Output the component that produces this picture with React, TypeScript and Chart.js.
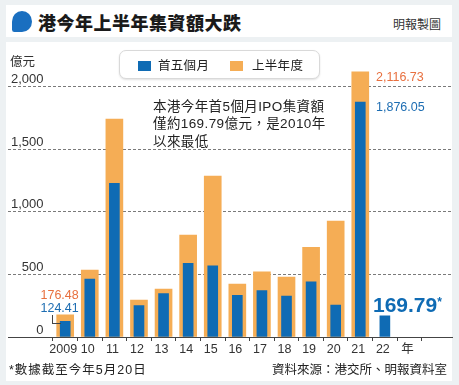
import React, { useEffect, useRef } from "react";
import { Chart, registerables } from "chart.js";

Chart.register(...registerables);

// ---- data ----
const yearLabels = ["2009", "10", "11", "12", "13", "14", "15", "16", "17", "18", "19", "20", "21", "22", "年"];
const firstFiveMonths = [124.41, 463, 1227, 250, 346, 588, 569, 333, 370, 327, 441, 255, 1876.05, 169.79];
const firstHalfYear = [176.48, 535, 1740, 295, 383, 814, 1285, 423, 521, 479, 716, 926, 2116.73, null];
const yTickValues = [0, 500, 1000, 1500, 2000];

const BLUE = "#0f6bb4";
const ORANGE = "#f5ad55";
const RED_TXT = "#e8703f";
const BLUE_TXT = "#1d6db2";
const NUM_FONT = "'Liberation Sans', Arial, 'Noto Sans CJK TC', sans-serif";
const CJK_FONT = "'Liberation Sans', 'Noto Sans CJK TC', sans-serif";

type TxtProps = { x: number; cy: number; children: React.ReactNode; style?: React.CSSProperties };
const Txt = ({ x, cy, children, style }: TxtProps) => (
  <div
    style={{
      position: "absolute",
      left: x,
      top: cy - 10,
      height: 20,
      lineHeight: "20px",
      whiteSpace: "nowrap",
      ...style,
    }}
  >
    {children}
  </div>
);

export default function App() {
  const canvasRef = useRef<HTMLCanvasElement | null>(null);

  useEffect(() => {
    const canvas = canvasRef.current;
    if (!canvas) return;
    const chart = new Chart(canvas, {
      type: "bar",
      data: {
        datasets: [
          {
            label: "首五個月",
            data: firstFiveMonths.map((v, i) => ({ x: i, y: v })),
            backgroundColor: BLUE,
            barThickness: 10,
            grouped: false,
            order: 0,
          } as any,
          {
            label: "上半年度",
            data: firstHalfYear
              .map((v, i) => ({ x: i, y: v }))
              .filter((p) => p.y !== null),
            backgroundColor: ORANGE,
            barThickness: 17,
            grouped: false,
            order: 1,
          } as any,
        ],
      },
      options: {
        responsive: false,
        animation: false,
        devicePixelRatio: 1,
        layout: { padding: { left: 8, right: 7, top: 61.45, bottom: 28 } },
        plugins: { legend: { display: false }, tooltip: { enabled: false } },
        scales: {
          x: {
            type: "linear",
            offset: false,
            min: -2.326,
            max: 15.73,
            afterBuildTicks: (axis: any) => {
              axis.ticks = yearLabels.map((_, i) => ({ value: i }));
            },
            afterFit: (axis: any) => {
              axis.height = 20;
            },
            ticks: {
              autoSkip: false,
              maxRotation: 0,
              padding: 1,
              labelOffset: -2,
              color: "#333",
              font: { family: CJK_FONT, size: 12.5 },
              callback: (_v: any, i: number) => yearLabels[i],
            },
            grid: {
              offset: true,
              drawOnChartArea: false,
              drawTicks: true,
              tickLength: 4,
              color: (c: any) => (c.index >= yearLabels.length ? "rgba(0,0,0,0)" : "#444"),
            },
            border: { display: true, color: "#444", width: 1 },
          } as any,
          y: {
            min: 0,
            max: 2200,
            afterBuildTicks: (axis: any) => {
              axis.ticks = yTickValues.map((v) => ({ value: v }));
            },
            afterFit: (axis: any) => {
              axis.width = 0;
            },
            ticks: {
              mirror: true,
              crossAlign: "far",
              padding: 3,
              labelOffset: -7,
              color: "#333",
              font: { family: NUM_FONT, size: 13 },
              callback: (v: any) => Number(v).toLocaleString("en-US"),
            },
            grid: {
              drawTicks: false,
              lineWidth: 1,
              color: (c: any) => (c.tick && c.tick.value === 0 ? "rgba(0,0,0,0)" : "#7a7a7a"),
            },
            border: { display: false, dash: [3, 2] },
          } as any,
        },
      },
    });
    return () => chart.destroy();
  }, []);

  return (
    <div
      style={{
        position: "relative",
        width: 459,
        height: 385,
        background: "#edf1f3",
        overflow: "hidden",
        fontFamily: CJK_FONT,
        color: "#222",
      }}
    >
      <style>{`body{margin:0}`}</style>
      {/* title panel */}
      <div style={{ position: "absolute", left: 6, top: 5, width: 446, height: 32, background: "#fff" }} />
      <div
        style={{
          position: "absolute",
          left: 12,
          top: 11,
          width: 20,
          height: 21,
          background: "#1a6fc0",
          borderRadius: "50% 50% 50% 12%",
        }}
      />
      <Txt x={38} cy={21.5} style={{ fontFamily: "'Noto Sans CJK TC', sans-serif", fontWeight: 900, fontSize: 18, letterSpacing: 0.5, color: "#1a1a1a" }}>
        港今年上半年集資額大跌
      </Txt>
      <Txt x={393} cy={25} style={{ fontSize: 12, color: "#333" }}>
        明報製圖
      </Txt>

      {/* chart panel */}
      <div style={{ position: "absolute", left: 6, top: 42, width: 446, height: 339, background: "#fff" }} />

      <canvas ref={canvasRef} width={459} height={385} style={{ position: "absolute", left: 0, top: 0, width: 459, height: 385 }} />

      <Txt x={10} cy={62} style={{ fontSize: 12.5, color: "#333" }}>
        億元
      </Txt>

      {/* legend */}
      <div
        style={{
          position: "absolute",
          left: 119,
          top: 50,
          width: 199,
          height: 27,
          border: "1px solid #d9d9d9",
          borderRadius: 7,
          background: "#fff",
          boxShadow: "0 1px 2px rgba(0,0,0,0.12)",
        }}
      />
      <div style={{ position: "absolute", left: 138, top: 61, width: 13, height: 10, background: BLUE }} />
      <Txt x={158} cy={65.5} style={{ fontSize: 12.5, letterSpacing: 0.3, color: "#222" }}>
        首五個月
      </Txt>
      <div style={{ position: "absolute", left: 230, top: 61, width: 13, height: 10, background: ORANGE }} />
      <Txt x={252} cy={65.5} style={{ fontSize: 12.5, letterSpacing: 0.3, color: "#222" }}>
        上半年度
      </Txt>

      {/* annotation */}
      <Txt x={153} cy={106.5} style={{ fontSize: 13.5, letterSpacing: 0.4, color: "#222" }}>
        本港今年首5個月IPO集資額
      </Txt>
      <Txt x={153} cy={124} style={{ fontSize: 13.5, letterSpacing: 0.4, color: "#222" }}>
        僅約169.79億元，是2010年
      </Txt>
      <Txt x={153} cy={141.5} style={{ fontSize: 13.5, letterSpacing: 0.4, color: "#222" }}>
        以來最低
      </Txt>

      {/* value labels */}
      <Txt x={376} cy={77} style={{ fontFamily: NUM_FONT, fontSize: 12.5, color: RED_TXT }}>
        2,116.73
      </Txt>
      <Txt x={376} cy={106.5} style={{ fontFamily: NUM_FONT, fontSize: 12.5, color: BLUE_TXT }}>
        1,876.05
      </Txt>
      <Txt x={40.5} cy={294.5} style={{ fontFamily: NUM_FONT, fontSize: 12.5, color: RED_TXT }}>
        176.48
      </Txt>
      <Txt x={40.5} cy={308} style={{ fontFamily: NUM_FONT, fontSize: 12.5, color: BLUE_TXT }}>
        124.41
      </Txt>
      <div style={{ position: "absolute", left: 52, top: 315, width: 8, height: 8, borderLeft: "1px solid #444", borderBottom: "1px solid #444" }} />
      <Txt x={373} cy={304.5} style={{ fontFamily: NUM_FONT, fontSize: 21, fontWeight: 700, color: BLUE }}>
        169.79<span style={{ fontSize: 12, verticalAlign: "top", position: "relative", top: -3 }}>*</span>
      </Txt>

      {/* footer */}
      <Txt x={9} cy={370} style={{ fontSize: 12.5, letterSpacing: 1, color: "#222" }}>
        *數據截至今年5月20日
      </Txt>
      <Txt x={272} cy={370} style={{ fontSize: 12.5, color: "#222" }}>
        資料來源：港交所、明報資料室
      </Txt>
    </div>
  );
}
